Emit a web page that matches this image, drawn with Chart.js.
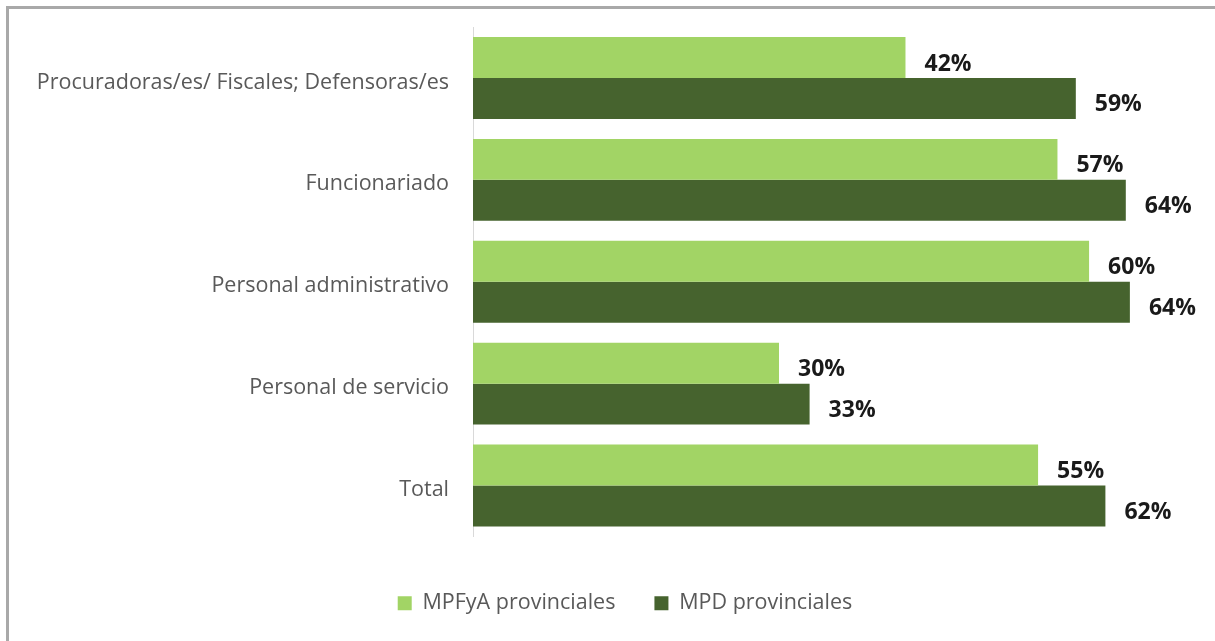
<!DOCTYPE html>
<html>
<head>
<meta charset="utf-8">
<script src="https://cdn.jsdelivr.net/npm/chart.js@4.4.1/dist/chart.umd.min.js"></script>
<style>
  body { margin: 0; background: #fff; }
  #frame {
    position: absolute; left: 6px; top: 6px;
    width: 1209px; height: 635px;
    border-top: 3px solid #a9a9a9; border-left: 3px solid #a9a9a9;
  }
  #wrap { position: relative; width: 1206px; height: 632px; }
</style>
</head>
<body>
<div id="frame"><div id="wrap"><canvas id="chart"></canvas></div></div>
<script>
var categories = [
  "Procuradoras/es/ Fiscales; Defensoras/es",
  "Funcionariado",
  "Personal administrativo",
  "Personal de servicio",
  "Total"
];
var seriesNames = ["MPFyA provinciales", "MPD provinciales"];
var mpfyaValues = [42.4, 57.3, 60.4, 30.0, 55.4];
var mpdValues = [59.1, 64.0, 64.4, 33.0, 62.0];
var barColors = ["#a2d465", "#46632e"];

var FONT = "'Open Sans', sans-serif";

// draws the bold percent after each bar
var valueLabels = {
  id: "valueLabels",
  afterLayout: function (chart) {
    // long first label would be clipped at the scale's left edge otherwise
    chart.scales.y.left = 0;
  },
  afterDatasetsDraw: function (chart) {
    var ctx = chart.ctx;
    ctx.save();
    ctx.font = "bold 23px " + FONT;
    ctx.fillStyle = "#1a1a1a";
    ctx.textAlign = "left";
    ctx.textBaseline = "middle";
    chart.data.datasets.forEach(function (ds, i) {
      chart.getDatasetMeta(i).data.forEach(function (bar, j) {
        ctx.fillText(Math.round(ds.data[j]) + "%", bar.x + 19, bar.y + 6.5);
      });
    });
    ctx.restore();
  }
};

new Chart(document.getElementById("chart"), {
  type: "bar",
  plugins: [valueLabels],
  data: {
    labels: categories,
    datasets: [
      { label: seriesNames[0], data: mpfyaValues, backgroundColor: barColors[0] },
      { label: seriesNames[1], data: mpdValues, backgroundColor: barColors[1] }
    ]
  },
  options: {
    indexAxis: "y",
    responsive: true,
    maintainAspectRatio: false,
    animation: false,
    datasets: { bar: { categoryPercentage: 0.804, barPercentage: 1 } },
    layout: { padding: { left: 54, right: 28, top: 18, bottom: 17 } },
    scales: {
      x: {
        min: 0, max: 70,
        grid: { display: false, drawTicks: false },
        border: { display: false },
        ticks: { display: false },
        afterFit: function (s) { s.height = 17; }
      },
      y: {
        grid: { display: false, drawTicks: false },
        border: { display: true, color: "#d9d9d9", width: 1 },
        ticks: {
          color: "#595959", padding: 24, labelOffset: 4.5,
          font: { family: FONT, size: 21.5 }
        },
        afterFit: function (s) {
          s.width = 410;
          s.paddingTop = 0;
          s.paddingBottom = 0;
        }
      }
    },
    plugins: {
      tooltip: { enabled: false },
      legend: {
        position: "bottom",
        labels: {
          boxWidth: 14, boxHeight: 14, padding: 39,
          color: "#595959",
          font: { family: FONT, size: 21.5 }
        }
      }
    }
  }
});
</script>
</body>
</html>
